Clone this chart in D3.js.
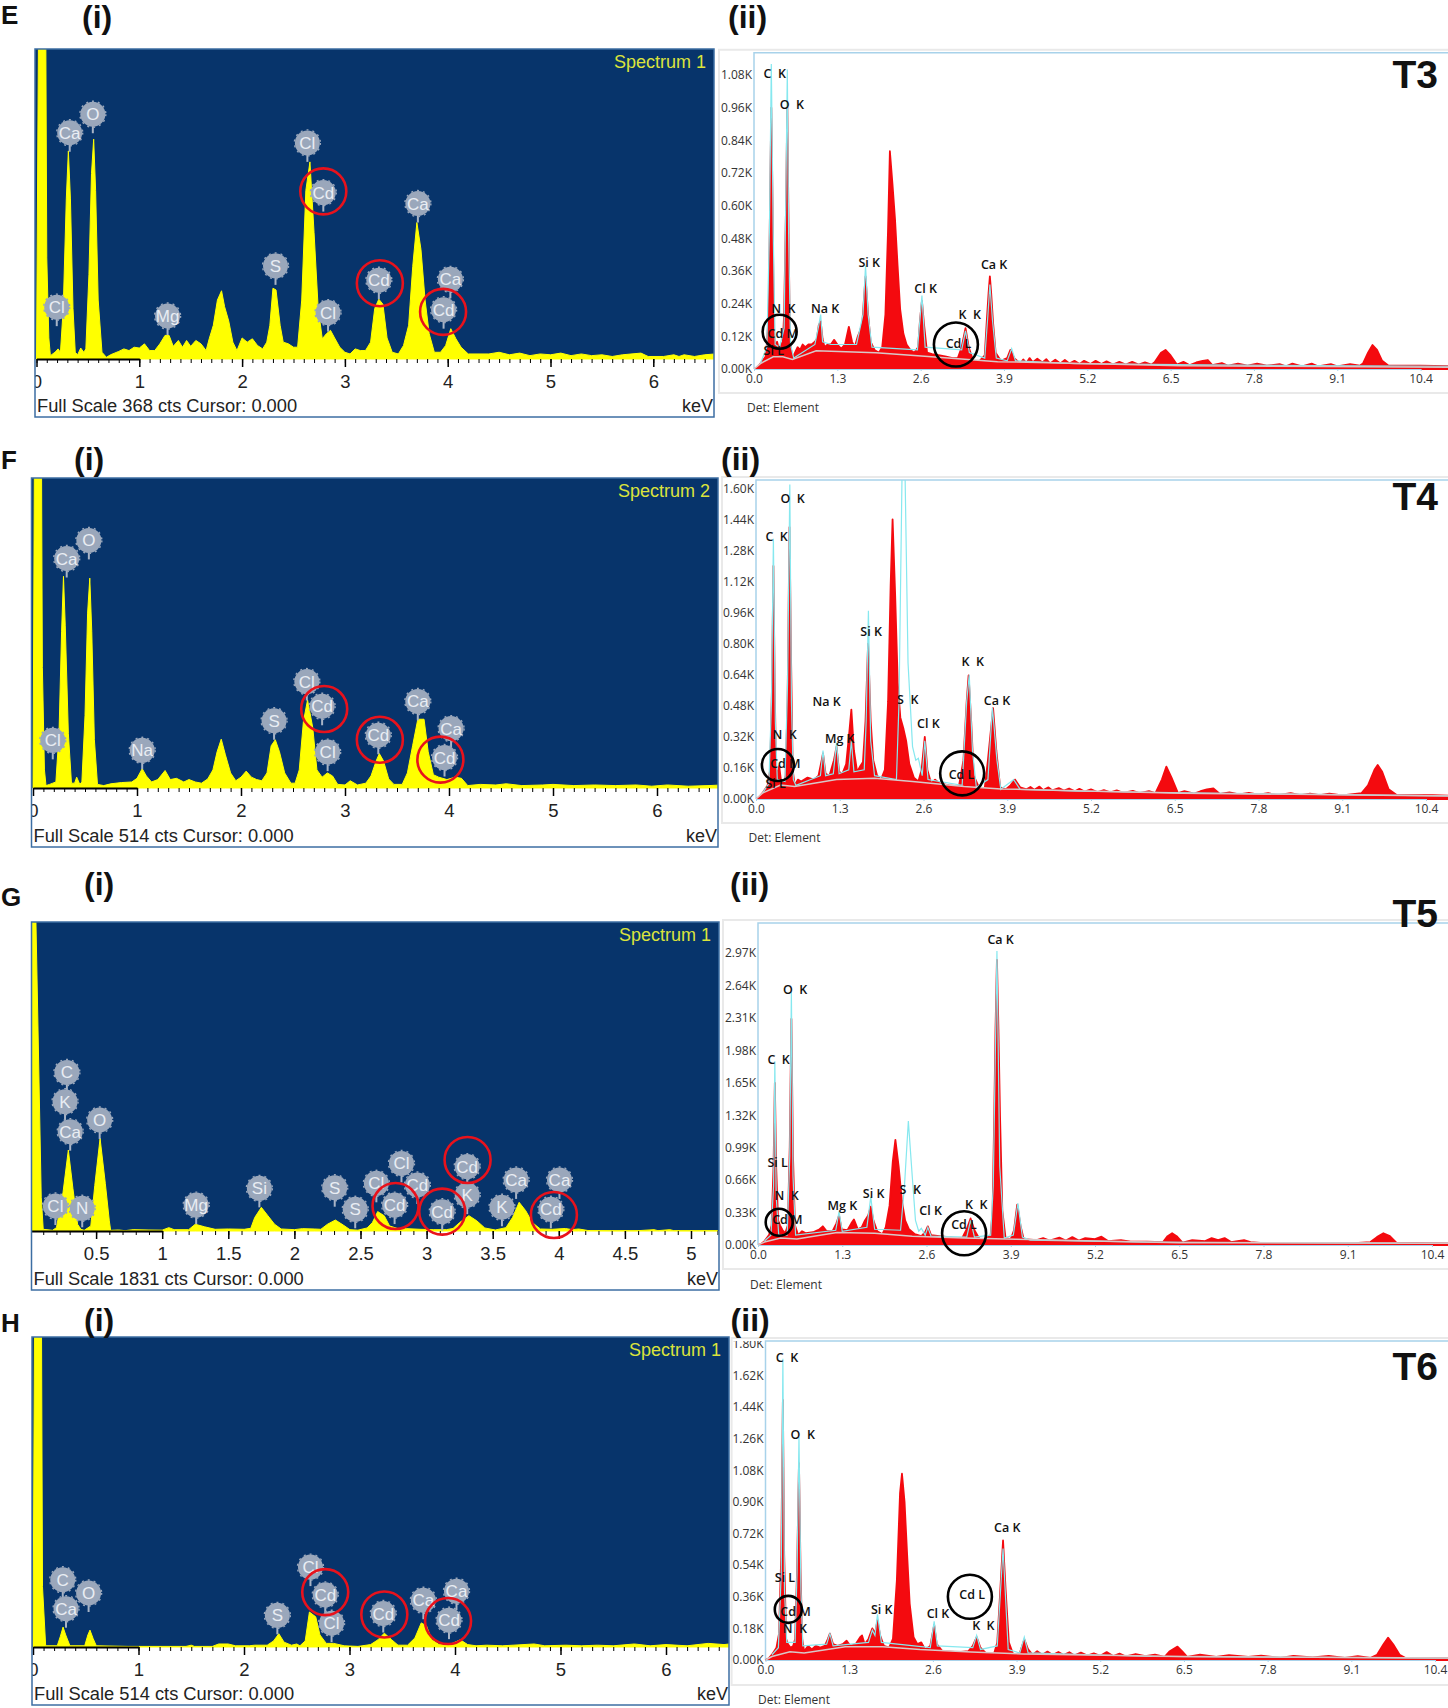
<!DOCTYPE html>
<html lang="en">
<head>
<meta charset="UTF-8">
<title>EDS spectra T3-T6</title>
<script src="https://d3js.org/d3.v7.min.js"></script>
<style>
    body { margin: 0; background: #fff; }
    svg { display: block; }
    text { font-family: "Liberation Sans", Arial, sans-serif; }
    .eds text { font-family: "Open Sans", sans-serif; }
    .eds .peak { white-space: pre; font-weight: 600; fill: #111; font-size: 12.5px; }
</style>
</head>
<body>
<div id="chart"></div>
<script>
// spectrum data, [keV, counts]
var specE = [[0,0],[.02,400],[.09,400],[.1,120],[.12,25],[.135,4],[.18,8],[.21,12],[.233,8],[.26,60],[.29,190],[.31,247],[.33,190],[.355,60],[.377,8],[.40,5],[.43,13],[.46,8],[.48,12],[.51,100],[.535,220],[.556,261],[.575,200],[.6,70],[.637,8],[.68,2],[.72,5],[.8,9],[.85,12],[.9,10],[.95,14],[1,13],[1.05,18],[1.1,10],[1.15,10],[1.2,18],[1.25,28],[1.29,28],[1.33,15],[1.38,22],[1.42,14],[1.46,22],[1.5,15],[1.55,22],[1.6,18],[1.65,10],[1.68,24],[1.72,40],[1.76,70],[1.8,81],[1.83,62],[1.87,45],[1.91,20],[1.95,10],[2,25],[2.05,20],[2.1,24],[2.15,16],[2.2,12],[2.24,20],[2.27,40],[2.3,84],[2.33,82],[2.37,40],[2.4,20],[2.45,18],[2.5,14],[2.54,14],[2.58,70],[2.62,200],[2.66,234],[2.7,150],[2.74,60],[2.78,24],[2.82,30],[2.86,34],[2.9,25],[2.95,14],[3,8],[3.05,6],[3.1,12],[3.15,10],[3.2,10],[3.25,20],[3.29,60],[3.33,71],[3.37,65],[3.41,25],[3.46,8],[3.52,6],[3.57,16],[3.62,40],[3.66,110],[3.7,162],[3.74,130],[3.78,70],[3.82,30],[3.87,8],[3.93,8],[3.98,16],[4.03,36],[4.08,24],[4.13,14],[4.2,6],[4.4,6],[4.5,8],[4.6,5],[4.7,7],[4.8,4],[4.9,6],[5,5],[5.1,7],[5.2,4],[5.3,6],[5.4,4],[5.5,5],[5.6,3],[5.7,5],[5.88,7],[5.95,3],[6.1,3],[6.2,5],[6.25,3],[6.3,5],[6.4,3],[6.5,5],[6.6,6]];
var specF = [[0,0],[.015,620],[.08,620],[.09,200],[.11,30],[.125,4],[.16,6],[.19,8],[.22,10],[.25,90],[.275,260],[.293,351],[.31,270],[.34,90],[.37,8],[.4,8],[.42,18],[.45,6],[.47,10],[.5,120],[.525,290],[.546,348],[.565,260],[.59,80],[.62,6],[.68,4],[.75,7],[.85,9],[.95,10],[1,16],[1.05,32],[1.09,20],[1.14,10],[1.2,14],[1.27,29],[1.32,14],[1.38,16],[1.45,10],[1.5,14],[1.56,10],[1.62,8],[1.68,15],[1.73,30],[1.77,60],[1.81,81],[1.85,55],[1.9,25],[1.95,12],[2,18],[2.05,28],[2.1,18],[2.15,14],[2.2,12],[2.25,25],[2.29,70],[2.33,80],[2.37,60],[2.42,25],[2.48,8],[2.52,8],[2.56,30],[2.6,110],[2.64,146],[2.69,100],[2.73,30],[2.78,18],[2.83,25],[2.88,20],[2.93,6],[3,5],[3.05,12],[3.12,5],[3.2,8],[3.25,20],[3.3,45],[3.33,57],[3.37,45],[3.42,15],[3.47,6],[3.55,6],[3.6,25],[3.65,70],[3.7,114],[3.76,114],[3.8,60],[3.85,22],[3.9,18],[3.98,14],[4.06,18],[4.12,16],[4.18,4],[4.3,6],[4.45,5],[4.55,7],[4.7,4],[4.9,5],[5,6],[5.2,4],[5.4,5],[5.6,4],[5.8,5],[5.95,3],[6.1,5],[6.3,3],[6.5,4],[6.62,5]];
var specG = [[0,0],[.005,1900],[.03,1900],[.045,1831],[.085,200],[.1,10],[.17,4],[.2,20],[.25,230],[.29,480],[.325,250],[.36,40],[.385,10],[.41,4],[.46,30],[.49,270],[.53,549],[.57,280],[.6,60],[.61,4],[.67,6],[.72,2],[.78,8],[.9,6],[1.0,5],[1.05,20],[1.09,8],[1.2,8],[1.25,40],[1.32,25],[1.4,10],[1.5,12],[1.62,10],[1.67,16],[1.7,80],[1.75,140],[1.8,90],[1.85,40],[1.9,12],[2,8],[2.06,14],[2.15,12],[2.2,10],[2.25,40],[2.31,65],[2.37,35],[2.42,8],[2.48,5],[2.55,18],[2.59,50],[2.63,115],[2.68,90],[2.72,30],[2.78,15],[2.85,14],[2.95,10],[3.05,8],[3.15,8],[3.2,15],[3.25,50],[3.32,91],[3.38,60],[3.44,18],[3.52,6],[3.6,20],[3.65,80],[3.7,170],[3.75,120],[3.8,50],[3.86,12],[3.95,10],[4.05,15],[4.1,8],[4.15,12],[4.22,3],[4.4,2],[4.6,2],[4.72,8],[4.75,2],[4.84,8],[4.87,2],[5.2,2]];
var specH = [[0,0],[.015,560],[.08,560],[.09,100],[.12,2],[.23,2],[.26,18],[.285,33],[.31,20],[.35,2],[.49,2],[.52,20],[.54,28],[.57,14],[.6,2],[.9,1],[1.45,1],[1.5,3],[1.53,1],[1.7,1],[1.76,5],[1.85,5],[1.92,2],[2.05,2],[2.1,3],[2.22,3],[2.28,10],[2.33,22],[2.38,8],[2.45,3],[2.5,5],[2.53,2],[2.58,10],[2.62,58],[2.68,50],[2.72,20],[2.78,6],[2.85,6],[2.95,2],[3.08,1],[3.2,4],[3.27,12],[3.33,23],[3.4,12],[3.46,3],[3.55,3],[3.62,15],[3.68,40],[3.73,35],[3.78,12],[3.85,4],[3.95,4],[4.05,12],[4.12,4],[4.2,2],[4.3,3],[4.45,2],[4.55,3],[4.75,5],[4.85,2],[5.05,3],[5.2,2],[5.35,3],[5.5,2],[5.7,5],[5.85,2],[6.0,4],[6.2,2],[6.4,6],[6.55,4],[6.6,5]];

// element badges, [name, keV, counts at stem tip]
var badgesE = [["Cl",.197,39],["Ca",.323,246],["O",.548,268],["Mg",1.275,28.5],["S",2.325,88],["Cl",2.635,234],["Cd",2.79,175],["Cl",2.836,32.5],["Cd",3.33,71],["Ca",3.71,162],["Ca",4.026,72],["Cd",3.96,36]];
var badgesF = [["Cl",.19,47.5],["Ca",.324,349],["O",.537,379],["Na",1.05,31],["S",2.318,80],["Cl",2.633,145],["Cd",2.78,104],["Cl",2.833,28],["Cd",3.32,56],["Ca",3.70,112],["Ca",4.02,67],["Cd",3.957,19]];
var badgesG = [["Cl",.192,35.5],["N",.395,22],["C",.279,827],["K",.265,654],["Ca",.304,476],["O",.527,545],["Mg",1.257,41],["Si",1.735,140],["S",2.305,144],["S",2.46,16],["Cl",2.81,288],["Cl",2.62,170],["Cd",2.93,160],["Cd",2.758,41],["Cd",3.118,2],["Cd",3.307,269],["K",3.307,100],["K",3.57,28],["Ca",3.677,190],["Ca",4.005,190],["Cd",3.94,16]];
var badgesH = [["C",.282,80],["Ca",.313,32],["O",.527,58],["S",2.316,21],["Cl",2.63,101],["Cd",2.77,55],["Cl",2.83,8],["Cd",3.32,24],["Ca",3.70,46],["Ca",4.014,61],["Cd",3.943,13]];

// red rings round the Cd badges, [keV, counts]
var ringsE = [[2.79,199],[3.34,90],[3.955,56]];
var ringsF = [[2.80,131],[3.335,80],[3.917,47]];
var ringsG = [[2.765,148],[3.118,115],[3.31,421],[3.963,95]];
var ringsH = [[2.77,91],[3.33,54],[3.934,43]];

var leftTicks = [0,1,2,3,4,5,6];
var leftTicksG = [.5,1,1.5,2,2.5,3,3.5,4,4.5,5];
var rightTicks = [0,1.3,2.6,3.9,5.2,6.5,7.8,9.1,10.4];

var yTicksT3 = [0,.12,.24,.36,.48,.60,.72,.84,.96,1.08];
var yTicksT4 = [0,.16,.32,.48,.64,.80,.96,1.12,1.28,1.44,1.60];
var yTicksT5 = [0,.33,.66,.99,1.32,1.65,1.98,2.31,2.64,2.97];
var yTicksT6 = [0,.18,.36,.54,.72,.90,1.08,1.26,1.44,1.62,1.80];

// measured spectra, [keV, K counts]
var redT3 = [[0,0],[.05,.005],[.1,.02],[.18,.045],[.2,.09],[.23,.2],[.25,.6],[.27,.96],[.29,.6],[.31,.14],[.33,.08],[.36,.1],[.39,.07],[.42,.09],[.45,.1],[.47,.2],[.5,.6],[.52,.96],[.54,.5],[.56,.1],[.6,.04],[.64,.06],[.68,.08],[.72,.07],[.76,.09],[.8,.08],[.85,.09],[.9,.09],[.95,.1],[.98,.11],[1.01,.16],[1.04,.175],[1.07,.11],[1.1,.08],[1.15,.09],[1.2,.09],[1.25,.107],[1.3,.09],[1.36,.075],[1.42,.09],[1.48,.155],[1.53,.1],[1.57,.08],[1.62,.12],[1.65,.137],[1.69,.17],[1.74,.34],[1.78,.2],[1.82,.1],[1.88,.07],[1.95,.06],[2.0,.08],[2.05,.2],[2.09,.5],[2.12,.8],[2.16,.68],[2.2,.55],[2.24,.38],[2.28,.22],[2.33,.13],[2.38,.09],[2.44,.07],[2.5,.06],[2.56,.08],[2.59,.18],[2.62,.25],[2.65,.17],[2.7,.06],[2.78,.055],[2.9,.05],[3.0,.045],[3.1,.04],[3.18,.04],[3.24,.08],[3.3,.15],[3.35,.08],[3.42,.03],[3.52,.03],[3.6,.05],[3.63,.17],[3.66,.28],[3.68,.34],[3.7,.28],[3.73,.17],[3.77,.06],[3.85,.03],[3.95,.04],[4.0,.07],[4.06,.04],[4.15,.02],[4.2,.035],[4.25,.022],[4.3,.04],[4.35,.025],[4.42,.038],[4.5,.024],[4.56,.036],[4.62,.02],[4.7,.034],[4.78,.02],[4.85,.033],[4.92,.02],[5,.03],[5.08,.018],[5.15,.03],[5.25,.018],[5.33,.03],[5.42,.018],[5.5,.028],[5.6,.016],[5.7,.026],[5.8,.016],[5.9,.026],[6,.016],[6.1,.024],[6.2,.016],[6.25,.025],[6.35,.06],[6.42,.07],[6.5,.05],[6.6,.016],[6.7,.026],[6.8,.014],[6.9,.024],[7.0,.03],[7.08,.033],[7.15,.014],[7.3,.022],[7.4,.012],[7.55,.02],[7.7,.012],[7.85,.02],[8,.012],[8.2,.018],[8.3,.01],[8.4,.02],[8.55,.01],[8.7,.02],[8.8,.01],[9,.018],[9.1,.01],[9.3,.018],[9.45,.012],[9.5,.02],[9.58,.06],[9.65,.088],[9.72,.07],[9.8,.03],[9.9,.012],[10.4,.012],[10.9,.01]];
var redT4 = [[0,0],[.05,.01],[.1,.03],[.18,.07],[.22,.15],[.25,.6],[.27,1.2],[.29,.6],[.31,.15],[.34,.14],[.36,.17],[.39,.09],[.43,.08],[.46,.12],[.49,.5],[.52,1.4],[.545,.7],[.57,.15],[.6,.07],[.65,.1],[.7,.09],[.75,.1],[.8,.11],[.9,.1],[.97,.12],[1.02,.2],[1.04,.235],[1.08,.13],[1.14,.12],[1.21,.2],[1.25,.27],[1.29,.14],[1.34,.13],[1.4,.18],[1.45,.35],[1.48,.46],[1.52,.25],[1.57,.14],[1.62,.17],[1.66,.19],[1.7,.4],[1.74,.8],[1.78,.4],[1.82,.2],[1.88,.12],[1.94,.1],[2.0,.15],[2.05,.5],[2.09,1.1],[2.12,1.44],[2.16,1.05],[2.2,.6],[2.24,.42],[2.29,.36],[2.33,.3],[2.38,.18],[2.45,.11],[2.52,.09],[2.57,.15],[2.62,.32],[2.66,.15],[2.72,.08],[2.78,.1],[2.85,.08],[3.0,.07],[3.15,.065],[3.22,.2],[3.27,.5],[3.3,.636],[3.34,.4],[3.38,.12],[3.46,.06],[3.55,.055],[3.6,.2],[3.68,.468],[3.73,.25],[3.79,.06],[3.88,.05],[3.95,.07],[4.02,.1],[4.1,.06],[4.2,.05],[4.26,.062],[4.32,.048],[4.4,.064],[4.46,.046],[4.54,.06],[4.6,.044],[4.7,.056],[4.78,.043],[4.86,.054],[4.95,.04],[5.02,.052],[5.1,.038],[5.2,.05],[5.3,.036],[5.4,.046],[5.5,.034],[5.6,.044],[5.7,.032],[5.85,.042],[5.95,.03],[6.1,.04],[6.2,.03],[6.3,.1],[6.37,.167],[6.45,.11],[6.55,.03],[6.65,.04],[6.8,.028],[6.9,.04],[7.0,.05],[7.1,.055],[7.2,.026],[7.35,.034],[7.5,.024],[7.65,.032],[7.8,.022],[7.95,.03],[8.1,.02],[8.3,.03],[8.45,.02],[8.6,.028],[8.75,.02],[8.9,.028],[9.1,.018],[9.3,.026],[9.4,.03],[9.5,.07],[9.6,.15],[9.65,.175],[9.72,.14],[9.82,.05],[9.95,.02],[10.5,.02],[10.9,.015]];
var redT5 = [[0,0],[.05,.01],[.1,.04],[.17,.1],[.21,.2],[.24,.8],[.26,1.65],[.28,.8],[.31,.25],[.34,.2],[.38,.15],[.42,.12],[.46,.2],[.49,1],[.515,2.3],[.54,.9],[.57,.2],[.62,.1],[.68,.14],[.74,.12],[.85,.13],[.95,.16],[1.0,.19],[1.06,.14],[1.15,.14],[1.21,.22],[1.25,.3],[1.29,.16],[1.38,.15],[1.44,.22],[1.48,.26],[1.54,.16],[1.6,.18],[1.65,.25],[1.7,.3],[1.74,.39],[1.78,.25],[1.84,.14],[1.92,.11],[1.97,.18],[2.03,.4],[2.08,.85],[2.12,1.07],[2.17,.8],[2.22,.45],[2.27,.25],[2.33,.16],[2.42,.11],[2.52,.09],[2.58,.13],[2.62,.19],[2.67,.1],[2.8,.09],[3.0,.075],[3.15,.07],[3.22,.16],[3.28,.27],[3.34,.15],[3.42,.06],[3.5,.06],[3.59,.1],[3.62,.35],[3.645,1.3],[3.665,2.2],[3.687,2.9],[3.71,2.2],[3.735,1.3],[3.77,.35],[3.82,.07],[3.9,.06],[3.95,.15],[4.0,.41],[4.05,.2],[4.1,.06],[4.3,.05],[4.4,.07],[4.5,.045],[4.65,.075],[4.75,.045],[4.85,.08],[4.95,.045],[5.05,.07],[5.2,.06],[5.3,.085],[5.4,.04],[5.6,.05],[5.75,.035],[6.0,.035],[6.25,.03],[6.32,.09],[6.39,.12],[6.46,.09],[6.55,.025],[6.7,.05],[6.9,.04],[7.0,.07],[7.1,.05],[7.2,.07],[7.3,.03],[7.5,.05],[7.6,.03],[7.8,.02],[8.5,.02],[9.2,.018],[9.45,.03],[9.55,.08],[9.65,.12],[9.75,.09],[9.85,.025],[10.4,.02],[10.9,.015]];
var redT6 = [[0,0],[.05,.01],[.1,.03],[.17,.07],[.21,.15],[.245,.6],[.27,1.48],[.29,.6],[.32,.12],[.35,.09],[.39,.07],[.43,.08],[.46,.12],[.49,.5],[.52,1.12],[.545,.5],[.57,.12],[.6,.05],[.66,.08],[.72,.06],[.78,.08],[.85,.07],[.92,.08],[.97,.12],[1.0,.15],[1.05,.09],[1.12,.08],[1.2,.09],[1.26,.11],[1.32,.08],[1.4,.09],[1.47,.13],[1.5,.14],[1.54,.09],[1.6,.12],[1.66,.18],[1.7,.15],[1.74,.227],[1.78,.14],[1.84,.08],[1.92,.07],[1.98,.12],[2.04,.45],[2.09,.95],[2.12,1.06],[2.16,.9],[2.2,.6],[2.24,.32],[2.3,.13],[2.36,.09],[2.42,.1],[2.48,.06],[2.56,.08],[2.62,.2],[2.66,.09],[2.75,.05],[3.0,.045],[3.15,.05],[3.22,.08],[3.28,.13],[3.34,.07],[3.42,.04],[3.55,.035],[3.6,.1],[3.64,.35],[3.69,.68],[3.73,.4],[3.78,.1],[3.85,.03],[3.95,.04],[4.02,.117],[4.08,.06],[4.15,.03],[4.22,.05],[4.3,.03],[4.38,.048],[4.46,.028],[4.55,.046],[4.63,.028],[4.72,.044],[4.8,.026],[4.9,.042],[5.0,.025],[5.1,.038],[5.2,.024],[5.3,.045],[5.4,.022],[5.5,.036],[5.6,.02],[5.75,.034],[5.9,.022],[6.05,.03],[6.2,.018],[6.28,.05],[6.4,.076],[6.47,.05],[6.55,.018],[6.75,.03],[7,.018],[7.2,.028],[7.5,.017],[7.7,.025],[8,.012],[8.2,.024],[8.5,.015],[8.75,.024],[9.0,.012],[9.2,.022],[9.4,.012],[9.5,.03],[9.6,.09],[9.67,.127],[9.75,.09],[9.85,.03],[9.95,.01],[10.4,.012],[10.9,.01]];

// fitted outline (cyan)
var fitT3 = [[.1,.02],[.2,.08],[.24,.5],[.27,1.12],[.3,.5],[.33,.09],[.4,.08],[.47,.15],[.5,.7],[.52,1.1],[.54,.5],[.57,.09],[.62,.04],[.95,.09],[1.01,.16],[1.04,.2],[1.07,.1],[1.2,.09],[1.6,.09],[1.7,.2],[1.74,.38],[1.78,.2],[1.84,.08],[2.55,.07],[2.62,.27],[2.67,.08],[3.24,.07],[3.3,.14],[3.36,.06],[3.6,.04],[3.65,.2],[3.68,.31],[3.72,.18],[3.78,.04],[3.95,.03],[4.02,.075],[4.08,.03],[5,.02],[7,.015],[10.9,.01]];
var fitT4 = [[.1,.03],[.2,.08],[.24,.5],[.27,1.34],[.3,.4],[.33,.1],[.45,.09],[.49,.6],[.525,1.62],[.55,.5],[.58,.1],[.62,.07],[1.0,.12],[1.04,.25],[1.08,.12],[1.2,.13],[1.25,.29],[1.29,.13],[1.44,.15],[1.48,.3],[1.52,.14],[1.68,.15],[1.71,.4],[1.745,.97],[1.78,.3],[1.84,.12],[2.18,.1],[2.22,.5],[2.27,1.75],[2.31,1.75],[2.36,.7],[2.43,.27],[2.48,.2],[2.52,.21],[2.58,.12],[2.62,.3],[2.67,.1],[3.2,.07],[3.27,.5],[3.31,.64],[3.36,.25],[3.42,.06],[3.6,.1],[3.67,.47],[3.74,.2],[3.8,.05],[4.0,.1],[4.1,.05],[5,.04],[7,.03],[10.9,.015]];
var fitT5 = [[.1,.04],[.2,.1],[.24,.6],[.26,1.87],[.28,.5],[.32,.1],[.45,.1],[.49,.9],[.515,2.58],[.54,.7],[.58,.1],[1.2,.15],[1.25,.34],[1.3,.14],[1.68,.18],[1.74,.49],[1.8,.16],[2.2,.15],[2.26,.6],[2.32,1.26],[2.38,.7],[2.43,.25],[2.48,.14],[2.52,.17],[2.58,.1],[2.62,.18],[2.67,.09],[3.22,.08],[3.28,.25],[3.34,.08],[3.59,.1],[3.63,.6],[3.687,2.99],[3.73,.8],[3.8,.07],[3.94,.1],[4.01,.425],[4.08,.08],[4.2,.05],[6,.03],[10.9,.015]];
var fitT6 = [[.1,.03],[.2,.07],[.245,.5],[.27,1.715],[.295,.4],[.33,.1],[.46,.1],[.49,.5],[.52,1.27],[.55,.4],[.58,.08],[.95,.09],[1.0,.15],[1.05,.08],[1.6,.1],[1.66,.17],[1.7,.14],[1.74,.26],[1.8,.1],[2.56,.07],[2.62,.22],[2.67,.08],[3.22,.07],[3.28,.14],[3.34,.06],[3.6,.08],[3.69,.635],[3.77,.06],[3.95,.04],[4.02,.13],[4.08,.04],[6,.02],[10.9,.01]];

// background curve
var bkgT3 = [[0,0],[.1,.02],[.3,.045],[.45,.045],[.6,.035],[.97,.067],[1.9,.06],[2.77,.045],[3.8,.027],[6.65,.012],[10.9,.006]];
var bkgT4 = [[0,0],[.1,.03],[.38,.072],[.6,.064],[1.25,.10],[1.84,.107],[2.43,.09],[3.23,.064],[3.8,.052],[6.6,.03],[10.9,.015]];
var bkgT5 = [[0,0],[.1,.03],[.35,.07],[.6,.06],[1.22,.126],[1.8,.12],[2.38,.09],[3.18,.07],[3.98,.058],[6.5,.024],[10.9,.017]];
var bkgT6 = [[0,0],[.1,.02],[.38,.047],[.6,.04],[1.24,.076],[1.82,.076],[2.4,.06],[3.19,.045],[4,.034],[6.5,.02],[10.9,.01]];

// peak captions, [text, keV, K counts]
var peaksT3 = [["C  K",.15,1.086],["O  K",.40,.97],["N  K",.27,.22],["Cd M",.21,.131],["Si L",.15,.066],["Na K",.89,.223],["Si K",1.63,.39],["Cl K",2.5,.295],["K  K",3.19,.198],["Cd L",2.99,.094],["Ca K",3.54,.382]];
var peaksT4 = [["O  K",.38,1.546],["C  K",.146,1.35],["N  K",.256,.33],["Cd M",.22,.18],["Si L",.146,.077],["Na K",.877,.502],["Mg K",1.07,.31],["Si K",1.62,.863],["S  K",2.19,.51],["Cl K",2.5,.39],["K  K",3.19,.705],["Ca K",3.535,.506],["Cd L",2.99,.124]];
var peaksT5 = [["Ca K",3.54,3.11],["O  K",.385,2.6],["C  K",.145,1.887],["Si L",.145,.833],["N  K",.254,.5],["Cd M",.218,.262],["Mg K",1.074,.398],["Si K",1.618,.527],["S  K",2.184,.568],["Cl K",2.49,.35],["K  K",3.193,.415],["Cd L",2.98,.21]];
var peaksT6 = [["C  K",.159,1.72],["O  K",.39,1.283],["Si L",.144,.468],["Cd M",.23,.275],["N  K",.267,.176],["Si K",1.638,.284],["Cl K",2.504,.265],["Cd L",3.01,.37],["K  K",3.21,.195],["Ca K",3.55,.752]];

// black rings, [keV, K counts, radius in px]
var circlesT3 = [[.40,.137,17],[3.15,.09,22]];
var circlesT4 = [[.34,.175,16],[3.2,.132,22]];
var circlesT5 = [[.327,.231,13.5],[3.18,.119,22]];
var circlesT6 = [[.354,.288,13.5],[3.175,.36,22]];

var width = 1448, height = 1708;

var svg = d3.select("#chart").append("svg")
    .attr("width", width)
    .attr("height", height);

var clipCount = 0;
function addClip(x, y, w, h) {
    var id = "clip" + (clipCount++);
    svg.append("clipPath").attr("id", id).append("rect")
        .attr("x", x).attr("y", y).attr("width", w).attr("height", h);
    return "url(#" + id + ")";
}

// yellow spectrum on navy, left column
function drawLeft(p) {
    var g = svg.append("g");
    var x = d3.scaleLinear().domain([0, 1]).range([p.x0, p.x0 + p.perKeV]);
    var y = d3.scaleLinear().domain([0, p.full]).range([p.base, p.top]);
    var clip = addClip(p.left, p.top, p.right - p.left, p.bottom - p.top);

    g.append("rect").attr("x", p.left).attr("y", p.top)
        .attr("width", p.right - p.left).attr("height", p.bottom - p.top)
        .attr("fill", "#fff");
    g.append("rect").attr("x", p.left).attr("y", p.top)
        .attr("width", p.right - p.left).attr("height", p.base - p.top)
        .attr("fill", "#07346b");

    var area = d3.area().x(d => x(d[0])).y0(p.base).y1(d => y(d[1]));
    g.append("path").datum(p.spec)
        .attr("d", area)
        .attr("fill", "#ffff00")
        .attr("stroke", "#ffff00")
        .attr("stroke-width", 1)
        .attr("stroke-linejoin", "round")
        .attr("clip-path", clip);

    // minor and major ticks
    var domainEnd = x.invert(p.right);
    var minor = d3.range(0, domainEnd, 0.1);
    var axes = g.append("g").attr("clip-path", clip);
    axes.append("g")
        .attr("transform", "translate(0," + p.base + ")")
        .call(d3.axisBottom(x).tickValues(minor).tickFormat("").tickSize(4).tickSizeOuter(0))
        .call(a => a.select(".domain").attr("stroke", "#000").attr("stroke-width", 2));
    var major = axes.append("g")
        .attr("transform", "translate(0," + p.base + ")")
        .call(d3.axisBottom(x).tickValues(p.ticks).tickFormat(d => d).tickSize(8).tickPadding(8).tickSizeOuter(0));
    major.select(".domain").remove();
    major.selectAll("line").attr("stroke-width", 1.5);
    major.selectAll("text")
        .attr("font-size", 18.5)
        .attr("fill", "#222")
        .attr("font-family", "Liberation Sans");

    g.append("rect").attr("x", p.left).attr("y", p.top)
        .attr("width", p.right - p.left).attr("height", p.bottom - p.top)
        .attr("fill", "none").attr("stroke", "#3c6ea3").attr("stroke-width", 1.5);

    g.append("text").text(p.spectrum)
        .attr("x", p.right - 8).attr("y", p.top + 19)
        .attr("text-anchor", "end")
        .attr("font-size", 18)
        .attr("fill", "#dbe33c");
    g.append("text").text(p.footer)
        .attr("x", p.left + 2).attr("y", p.bottom - 5)
        .attr("font-size", 18.3)
        .attr("fill", "#222");
    g.append("text").text("keV")
        .attr("x", p.right - 1).attr("y", p.bottom - 5)
        .attr("text-anchor", "end")
        .attr("font-size", 18)
        .attr("fill", "#222");

    // element badges
    var badge = g.selectAll(".badge").data(p.badges).enter().append("g")
        .attr("class", "badge")
        .attr("transform", d => "translate(" + x(d[1]) + "," + y(d[2]) + ")");
    badge.append("line")
        .attr("y1", 0).attr("y2", -10)
        .attr("stroke", "#a8b4c6").attr("stroke-width", 2);
    badge.append("circle")
        .attr("cy", -19).attr("r", 12.5)
        .attr("fill", "#9aa7bb");
    badge.append("circle")
        .attr("cy", -19).attr("r", 13)
        .attr("fill", "none")
        .attr("stroke", "#9aa7bb")
        .attr("stroke-width", 1.4)
        .attr("stroke-dasharray", "2 4");
    badge.append("text").text(d => d[0])
        .attr("y", -13)
        .attr("text-anchor", "middle")
        .attr("font-size", 17)
        .attr("fill", "#e9edf3");

    g.selectAll(".ring").data(p.rings).enter().append("circle")
        .attr("class", "ring")
        .attr("cx", d => x(d[0]))
        .attr("cy", d => y(d[1]))
        .attr("r", 23)
        .attr("fill", "none")
        .attr("stroke", "#e8121c")
        .attr("stroke-width", 2.6);
}

// red spectrum on white, right column
function drawRight(p) {
    var g = svg.append("g").attr("class", "eds");
    var x = d3.scaleLinear().domain([0, 10.4]).range([p.x0, p.x104]);
    var y = d3.scaleLinear().domain([0, p.yMax]).range([p.base, p.yMaxPx]);
    var clip = addClip(p.x0 - 40, p.top, 40, p.boxBottom - p.top);
    var plotClip = addClip(p.x0, p.top, width - p.x0, p.base - p.top + 2);

    // pale outer box
    g.append("path")
        .attr("d", "M" + width + "," + (p.top - 3) + "H" + p.boxLeft + "V" + p.boxBottom + "H" + width)
        .attr("fill", "none").attr("stroke", "#e9e9e9").attr("stroke-width", 2);
    g.append("path")
        .attr("d", "M" + width + "," + p.top + "H" + p.x0 + "V" + p.base)
        .attr("fill", "none").attr("stroke", "#a8d2ea").attr("stroke-width", 1.5);

    var plot = g.append("g").attr("clip-path", plotClip);
    plot.append("path").datum(p.red)
        .attr("d", d3.area().x(d => x(d[0])).y0(p.base).y1(d => y(d[1])))
        .attr("fill", "#f40a0f")
        .attr("stroke", "#f40a0f")
        .attr("stroke-width", 1.8)
        .attr("stroke-linejoin", "round");
    plot.append("path").datum(p.fit)
        .attr("d", d3.line().x(d => x(d[0])).y(d => y(d[1])))
        .attr("fill", "none").attr("stroke", "#86e8ef").attr("stroke-width", 1.2);
    plot.append("path").datum(p.bkg)
        .attr("d", d3.line().x(d => x(d[0])).y(d => y(d[1])))
        .attr("fill", "none").attr("stroke", "#d8c8c8").attr("stroke-width", 1.5);

    var xAxis = g.append("g")
        .attr("transform", "translate(0," + p.base + ")")
        .call(d3.axisBottom(x).tickValues(rightTicks).tickFormat(d3.format(".1f")).tickSize(2).tickPadding(3).tickSizeOuter(0));
    xAxis.select(".domain").attr("stroke", "#a8d2ea");
    xAxis.selectAll("line").attr("stroke", "#a8d2ea");
    xAxis.selectAll("text").attr("font-size", 12).attr("fill", "#333").attr("font-family", "Open Sans");

    // the clip sits on a wrapper so the axis translate does not shift it
    var yAxis = g.append("g").attr("clip-path", clip).append("g")
        .attr("transform", "translate(" + p.x0 + ",0)")
        .call(d3.axisLeft(y).tickValues(p.yTicks).tickFormat(d => d.toFixed(2) + "K").tickSize(0).tickPadding(2));
    yAxis.select(".domain").remove();
    yAxis.selectAll("text").attr("font-size", 12).attr("fill", "#333").attr("font-family", "Open Sans");

    g.append("text").text("Det: Element")
        .attr("x", p.detX).attr("y", p.detY)
        .attr("font-size", 12).attr("fill", "#333");

    g.selectAll(".peak").data(p.peaks).enter().append("text")
        .attr("class", "peak")
        .text(d => d[0])
        .attr("x", d => x(d[1]))
        .attr("y", d => y(d[2]))
        .attr("dy", "0.35em");

    g.selectAll(".cdring").data(p.circles).enter().append("circle")
        .attr("class", "cdring")
        .attr("cx", d => x(d[0]))
        .attr("cy", d => y(d[1]))
        .attr("r", d => d[2])
        .attr("fill", "none")
        .attr("stroke", "#000")
        .attr("stroke-width", 2.6);

    svg.append("text").text(p.name)
        .attr("x", 1438).attr("y", p.nameY)
        .attr("text-anchor", "end")
        .attr("font-size", 39)
        .attr("font-weight", "bold")
        .attr("fill", "#111");
}

drawLeft({left: 35, right: 714, top: 49, bottom: 417, base: 359, x0: 36.5, perKeV: 102.8, full: 368, spec: specE, badges: badgesE, rings: ringsE, ticks: leftTicks, spectrum: "Spectrum 1", footer: "Full Scale 368 cts Cursor: 0.000"});
drawLeft({left: 31.5, right: 718, top: 478, bottom: 847, base: 788, x0: 33, perKeV: 104, full: 514, spec: specF, badges: badgesF, rings: ringsF, ticks: leftTicks, spectrum: "Spectrum 2", footer: "Full Scale 514 cts Cursor: 0.000"});
drawLeft({left: 31.5, right: 719, top: 922, bottom: 1290, base: 1231, x0: 30, perKeV: 132.2, full: 1831, spec: specG, badges: badgesG, rings: ringsG, ticks: leftTicksG, spectrum: "Spectrum 1", footer: "Full Scale 1831 cts Cursor: 0.000"});
drawLeft({left: 32, right: 729, top: 1337, bottom: 1705, base: 1647, x0: 33, perKeV: 105.5, full: 514, spec: specH, badges: badgesH, rings: ringsH, ticks: leftTicks, spectrum: "Spectrum 1", footer: "Full Scale 514 cts Cursor: 0.000"});

drawRight({name: "T3", nameY: 88, boxLeft: 719, boxBottom: 393, top: 52.7, base: 369, x0: 754, x104: 1420.6, yMax: 1.08, yMaxPx: 75, yTicks: yTicksT3, red: redT3, fit: fitT3, bkg: bkgT3, peaks: peaksT3, circles: circlesT3, detX: 747, detY: 412});
drawRight({name: "T4", nameY: 510, boxLeft: 722, boxBottom: 823, top: 480, base: 799, x0: 756, x104: 1426, yMax: 1.60, yMaxPx: 488.3, yTicks: yTicksT4, red: redT4, fit: fitT4, bkg: bkgT4, peaks: peaksT4, circles: circlesT4, detX: 748.6, detY: 842});
drawRight({name: "T5", nameY: 927, boxLeft: 723, boxBottom: 1269, top: 923, base: 1245, x0: 758, x104: 1432, yMax: 2.97, yMaxPx: 953, yTicks: yTicksT5, red: redT5, fit: fitT5, bkg: bkgT5, peaks: peaksT5, circles: circlesT5, detX: 750, detY: 1289});
drawRight({name: "T6", nameY: 1380, boxLeft: 731.6, boxBottom: 1685, top: 1341, base: 1660, x0: 765.5, x104: 1435, yMax: 1.80, yMaxPx: 1343.7, yTicks: yTicksT6, red: redT6, fit: fitT6, bkg: bkgT6, peaks: peaksT6, circles: circlesT6, detX: 758, detY: 1704});

// panel letters and sub-labels
var letters = [["E", 1, 24], ["F", 1, 469], ["G", 1, 906], ["H", 1, 1332]];
var subLabels = [["(i)", 82, 28], ["(ii)", 728, 28], ["(i)", 74, 470], ["(ii)", 721, 470], ["(i)", 84, 895], ["(ii)", 730, 895], ["(i)", 84, 1331], ["(ii)", 730.6, 1331]];

svg.selectAll(".letter").data(letters).enter().append("text")
    .attr("class", "letter")
    .text(d => d[0])
    .attr("x", d => d[1]).attr("y", d => d[2])
    .attr("font-size", 26).attr("font-weight", "bold").attr("fill", "#111");
svg.selectAll(".sub").data(subLabels).enter().append("text")
    .attr("class", "sub")
    .text(d => d[0])
    .attr("x", d => d[1]).attr("y", d => d[2])
    .attr("font-size", 32).attr("font-weight", "bold").attr("fill", "#111");
</script>
</body>
</html>
